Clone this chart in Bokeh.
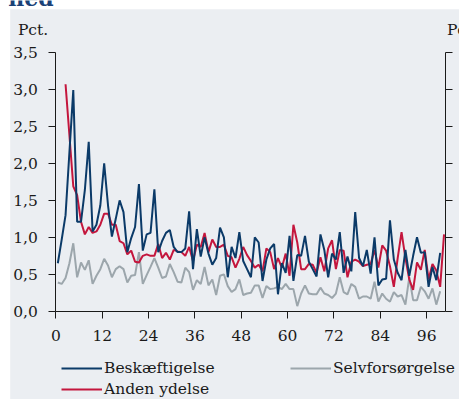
from bokeh.plotting import figure
from bokeh.models import (ColumnDataSource, Range1d, LinearAxis, FixedTicker,
                          Legend, LegendItem, Label, BoxAnnotation)
from bokeh.transform import dodge
from bokeh.embed import file_html
from bokeh.resources import INLINE

# ---------------- data ----------------
months_main = list(range(0, 100))
months_anden = list(range(2, 101))

beskaeftigelse = [
    0.65, 0.97, 1.30, 2.15, 2.99, 1.21, 1.21, 1.64, 2.29, 1.08,
    1.17, 1.43, 2.00, 1.43, 1.01, 1.25, 1.50, 1.34, 0.80, 0.99,
    1.14, 1.72, 0.82, 1.04, 1.06, 1.65, 0.80, 0.95, 1.06, 1.10,
    0.87, 0.80, 0.80, 0.85, 1.35, 0.57, 1.11, 0.74, 1.00, 0.78,
    0.63, 0.72, 1.13, 1.00, 0.46, 0.87, 0.72, 1.07, 0.68, 0.57,
    0.46, 1.00, 0.93, 0.41, 0.70, 0.85, 0.91, 0.23, 0.65, 0.52,
    1.02, 0.41, 0.76, 0.75, 1.02, 0.67, 0.57, 0.47, 1.04, 0.83,
    0.46, 0.78, 0.70, 1.07, 0.52, 0.74, 0.54, 1.34, 0.72, 0.61,
    0.83, 0.51, 1.00, 0.35, 0.43, 0.44, 1.23, 0.70, 0.52, 0.42,
    0.83, 0.48, 0.75, 1.00, 0.79, 0.80, 0.33, 0.60, 0.42, 0.79,
]

selvforsorgelse = [
    0.39, 0.37, 0.45, 0.65, 0.92, 0.46, 0.66, 0.56, 0.69, 0.37,
    0.48, 0.57, 0.71, 0.62, 0.46, 0.57, 0.61, 0.57, 0.39, 0.48,
    0.49, 0.80, 0.37, 0.49, 0.60, 0.72, 0.59, 0.45, 0.47, 0.64,
    0.53, 0.40, 0.39, 0.59, 0.53, 0.29, 0.42, 0.37, 0.60, 0.35,
    0.43, 0.22, 0.48, 0.50, 0.34, 0.26, 0.30, 0.43, 0.22, 0.24,
    0.25, 0.35, 0.35, 0.18, 0.34, 0.30, 0.31, 0.33, 0.30, 0.37,
    0.30, 0.30, 0.07, 0.24, 0.35, 0.24, 0.23, 0.23, 0.32, 0.24,
    0.22, 0.18, 0.24, 0.46, 0.26, 0.23, 0.37, 0.33, 0.17, 0.20,
    0.20, 0.17, 0.40, 0.13, 0.24, 0.17, 0.13, 0.26, 0.20, 0.22,
    0.09, 0.46, 0.15, 0.15, 0.33, 0.27, 0.17, 0.31, 0.09, 0.27,
]

anden_ydelse = [
    3.07, 2.38, 1.69, 1.57, 1.21, 1.04, 1.14, 1.06,
    1.08, 1.17, 1.32, 1.32, 1.17, 1.17, 0.95, 0.92, 0.77, 0.82,
    0.67, 0.66, 0.75, 0.77, 0.75, 0.75, 0.91, 0.72, 0.79, 0.70,
    0.83, 0.81, 0.80, 0.75, 0.87, 0.68, 0.90, 0.87, 1.06, 0.80,
    0.97, 0.87, 0.87, 0.90, 0.75, 0.73, 0.59, 0.71, 0.87, 0.76,
    0.68, 0.59, 0.63, 0.54, 0.85, 0.80, 0.57, 0.72, 0.59, 0.78,
    0.48, 1.17, 0.93, 0.57, 0.57, 0.64, 0.63, 0.52, 0.73, 0.54,
    0.85, 0.96, 0.57, 0.83, 0.82, 0.46, 0.67, 0.70, 0.67, 0.61,
    0.63, 0.64, 0.83, 0.59, 0.89, 0.82, 0.61, 0.33, 0.72, 1.07,
    0.72, 0.43, 0.29, 0.66, 0.56, 0.83, 0.43, 0.64, 0.55, 0.33,
    1.04,
]

x_ticks = [0, 12, 24, 36, 48, 60, 72, 84, 96]
y_ticks = [0.0, 0.5, 1.0, 1.5, 2.0, 2.5, 3.0, 3.5]
y_tick_labels = ["0,0", "0,5", "1,0", "1,5", "2,0", "2,5", "3,0", "3,5"]
unit_label = "Pct."
title_fragment = "ned"
series_names = ["Beskæftigelse", "Selvforsørgelse", "Anden ydelse"]

# ---------------- layout geometry (pixels inside the figure) ----------------
W, H = 459, 399
X0_PX, X1_PX = 55.4, 444.5      # x = 0 and right axis
Y0_PX, Y1_PX = 310.8, 51.9      # y = 0 and y = 3.5
X_MAX, Y_MAX = 100.75, 3.5
sx = (X1_PX - X0_PX) / X_MAX
sy = (Y0_PX - Y1_PX) / Y_MAX
x_start = -X0_PX / sx
x_end = x_start + W / sx
y_end = Y_MAX + Y1_PX / sy
y_start = y_end - H / sy

def px_to_x(px):
    return x_start + px / sx

def py_to_y(py):
    return y_end - py / sy

# ---------------- style ----------------
FONT = "DejaVu Serif"
FS = "15.5px"
TXT = "#1a1a1a"
BG = "#EBEEF2"
C_BLUE = "#0B3A68"
C_GRAY = "#9CA6AC"
C_RED = "#C4163D"
C_TITLE = "#1B4277"

src_main = ColumnDataSource(dict(m=months_main, b=beskaeftigelse, s=selvforsorgelse))
src_anden = ColumnDataSource(dict(m=months_anden, a=anden_ydelse))

p = figure(width=W, height=H,
           x_range=Range1d(x_start, x_end), y_range=Range1d(y_start, y_end),
           output_backend="svg", toolbar_location=None, min_border=0,
           background_fill_color="white", border_fill_color="white",
           outline_line_color=None)
p.grid.visible = False

# light panel behind the chart (white strip left and top, as in the crop)
p.add_layout(BoxAnnotation(left=px_to_x(9.7), top=py_to_y(8.7),
                           fill_color=BG, fill_alpha=1.0, line_color=None,
                           level="underlay"))

r_gray = p.line(x=dodge("m", 0.5), y="s", source=src_main, line_color=C_GRAY, line_width=2)
r_red = p.line(x=dodge("m", 0.5), y="a", source=src_anden, line_color=C_RED, line_width=2)
r_blue = p.line(x=dodge("m", 0.5), y="b", source=src_main, line_color=C_BLUE, line_width=2)

def style_axis(ax):
    ax.axis_line_color = TXT
    ax.axis_line_width = 1
    ax.major_tick_line_color = TXT
    ax.major_tick_out = 7
    ax.major_tick_in = 0
    ax.minor_tick_line_color = None
    ax.major_label_text_font = FONT
    ax.major_label_text_font_size = FS
    ax.major_label_text_color = TXT

xa = p.xaxis[0]
style_axis(xa)
xa.ticker = FixedTicker(ticks=x_ticks)
xa.fixed_location = 0
xa.bounds = (0, X_MAX)
xa.major_label_standoff = 12

ya = p.yaxis[0]
style_axis(ya)
ya.ticker = FixedTicker(ticks=y_ticks)
ya.major_label_overrides = {t: l for t, l in zip(y_ticks, y_tick_labels)}
ya.fixed_location = 0
ya.bounds = (0, Y_MAX)
ya.major_label_standoff = 11

# right axis: ticks only (its labels lie outside the cropped reference)
ra = LinearAxis(ticker=FixedTicker(ticks=y_ticks))
style_axis(ra)
ra.major_label_overrides = {t: "" for t in y_ticks}
ra.fixed_location = X_MAX
ra.bounds = (0, Y_MAX)
p.add_layout(ra, "right")

# unit labels above both axes (the right one runs off the edge, as in the reference)
for lx in (17.4, 446.4):
    p.add_layout(Label(x=px_to_x(lx), y=py_to_y(29.5), text=unit_label,
                       text_font=FONT, text_font_size=FS, text_color=TXT,
                       text_align="left", text_baseline="middle"))

# bottom of the cut-off heading at the very top of the crop
p.add_layout(Label(x=px_to_x(7.7), y=py_to_y(-3.0), text=title_fragment,
                   text_font=FONT, text_font_size="22px", text_font_style="bold",
                   text_color=C_TITLE, text_align="left", text_baseline="middle"))

def make_legend(items, loc):
    return Legend(items=items, location=loc, orientation="horizontal",
                  background_fill_alpha=0, border_line_alpha=0,
                  padding=0, margin=0, spacing=36,
                  glyph_width=41, glyph_height=20, label_height=20, label_width=150,
                  label_standoff=2, label_text_font=FONT,
                  label_text_font_size=FS, label_text_color=TXT)

lg1 = make_legend([LegendItem(label=series_names[0], renderers=[r_blue]),
                   LegendItem(label=series_names[1], renderers=[r_gray])], (61, 21))
lg2 = make_legend([LegendItem(label=series_names[2], renderers=[r_red])], (61, 0))
p.add_layout(lg1)
p.add_layout(lg2)

open("out.html", "w").write(file_html(p, INLINE))
